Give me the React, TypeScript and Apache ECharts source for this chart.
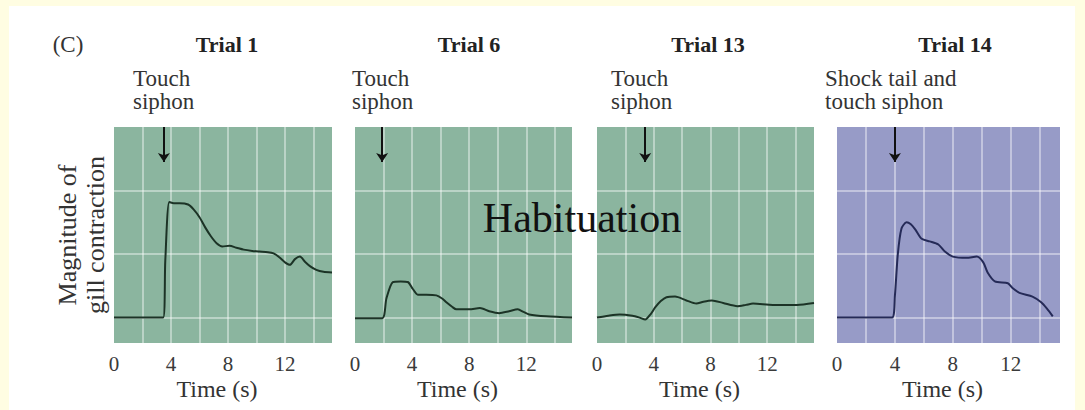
import React, { useEffect, useRef } from "react";
import * as echarts from "echarts";

// ---------- data ----------
const trialTitles = ["Trial 1", "Trial 6", "Trial 13", "Trial 14"];
const stimulusLabels = ["Touch\nsiphon", "Touch\nsiphon", "Touch\nsiphon", "Shock tail and\ntouch siphon"];
const stimulusTimes = [3.5, 1.9, 3.4, 4.0];
const xTickLabels = [0, 4, 8, 12];
const yGridValues = [0, 1, 2];
const panelLetter = "(C)";
const yAxisTitle = "Magnitude of\ngill contraction";
const xAxisTitle = "Time (s)";
const overlayText = "Habituation";

const trial1: [number, number][] = [
  [0, 0], [3.45, 0], [3.6, 0.9], [3.88, 1.82], [4.2, 1.8], [4.6, 1.8], [5.2, 1.78], [5.6, 1.7],
  [6.0, 1.58], [6.4, 1.42], [6.8, 1.28], [7.2, 1.17], [7.6, 1.12], [8.1, 1.13], [8.6, 1.1],
  [9.1, 1.07], [9.7, 1.05], [10.2, 1.04], [10.8, 1.03], [11.2, 1.01], [11.6, 0.95], [12.0, 0.87],
  [12.35, 0.83], [12.7, 0.92], [13.05, 0.96], [13.4, 0.88], [13.75, 0.81], [14.2, 0.75],
  [14.7, 0.72], [15.3, 0.71],
];
const trial6: [number, number][] = [
  [0, -0.01], [1.9, -0.01], [2.2, 0.3], [2.65, 0.56], [3.2, 0.57], [3.7, 0.56], [4.05, 0.45],
  [4.4, 0.36], [5.0, 0.36], [5.7, 0.35], [6.1, 0.3], [6.4, 0.24], [6.8, 0.17], [7.1, 0.13],
  [8.0, 0.13], [8.75, 0.15], [9.4, 0.1], [10.1, 0.07], [10.8, 0.1], [11.4, 0.13], [11.8, 0.09],
  [12.2, 0.05], [13.4, 0.02], [15.2, 0.0],
];
const trial13: [number, number][] = [
  [0, 0], [0.8, 0.03], [1.6, 0.05], [2.5, 0.03], [3.0, 0.0], [3.4, -0.03], [3.8, 0.06],
  [4.1, 0.16], [4.5, 0.26], [4.9, 0.32], [5.5, 0.33], [6.3, 0.27], [7.0, 0.22], [7.5, 0.25],
  [8.1, 0.27], [8.9, 0.23], [9.9, 0.18], [10.5, 0.2], [11.0, 0.22], [12.4, 0.2], [14.1, 0.2],
  [15.3, 0.23],
];
const trial14: [number, number][] = [
  [0, 0], [3.8, 0], [4.0, 0.35], [4.2, 1.0], [4.45, 1.4], [4.8, 1.5], [5.1, 1.47], [5.4, 1.39],
  [5.85, 1.24], [6.4, 1.2], [7.0, 1.15], [7.45, 1.04], [8.0, 0.96], [8.95, 0.94], [9.65, 0.96],
  [10.1, 0.87], [10.4, 0.71], [10.9, 0.57], [11.8, 0.54], [12.1, 0.47], [12.6, 0.39],
  [13.5, 0.33], [14.1, 0.24], [14.5, 0.14], [14.9, 0.02],
];
const trialSeries = [trial1, trial6, trial13, trial14];

// ---------- layout / style ----------
const SERIF = '"Liberation Serif", "DejaVu Serif", serif';
const GREEN = "#8bb59f";
const PURPLE = "#979bc7";
const GRID_LINE = "rgba(255,255,255,0.55)";
const panels = [
  { left: 114, width: 218, xMax: 15.3, bg: GREEN, line: "#1c3326", titleX: 227, labelX: 133 },
  { left: 355, width: 217, xMax: 15.2, bg: GREEN, line: "#1c3326", titleX: 469, labelX: 352 },
  { left: 597, width: 217, xMax: 15.3, bg: GREEN, line: "#1c3326", titleX: 708, labelX: 611 },
  { left: 837, width: 223, xMax: 15.4, bg: PURPLE, line: "#252a57", titleX: 955, labelX: 825 },
];
const PLOT_TOP = 127;
const PLOT_H = 216;
const Y_MIN = -0.4;
const Y_MAX = 3;

export default function App() {
  const ref = useRef<HTMLDivElement>(null);

  useEffect(() => {
    if (!ref.current) return;
    const chart = echarts.init(ref.current, null, { renderer: "svg" });

    const graphic: any[] = [
      {
        type: "text", x: 68, y: 44,
        style: { text: panelLetter, font: `23px ${SERIF}`, fill: "#333", textAlign: "center", textVerticalAlign: "middle" },
      },
      {
        type: "text", x: 81, y: 235, rotation: Math.PI / 2,
        style: { text: yAxisTitle, font: `26px ${SERIF}`, fill: "#333", lineHeight: 28, textAlign: "center", textVerticalAlign: "middle" },
      },
    ];
    panels.forEach((p, i) => {
      graphic.push({
        type: "text", x: p.titleX, y: 44,
        style: { text: trialTitles[i], font: `bold 22px ${SERIF}`, fill: "#222", textAlign: "center", textVerticalAlign: "middle" },
      });
      graphic.push({
        type: "text", x: p.labelX, y: 90,
        style: { text: stimulusLabels[i], font: `23px ${SERIF}`, fill: "#333", lineHeight: 23, textAlign: "left", textVerticalAlign: "middle" },
      });
    });
    graphic.push({
      type: "text", x: 582, y: 218, z: 100,
      style: { text: overlayText, font: `42px ${SERIF}`, fill: "#111", textAlign: "center", textVerticalAlign: "middle" },
    });

    const option: any = {
      animation: false,
      backgroundColor: "transparent",
      grid: panels.map((p) => ({
        left: p.left, top: PLOT_TOP, width: p.width, height: PLOT_H,
        show: true, backgroundColor: p.bg, borderWidth: 0,
        containLabel: false, outerBoundsMode: "none",
      })),
      xAxis: panels.map((p, i) => ({
        type: "value", gridIndex: i, min: 0, max: p.xMax, interval: 2,
        axisLine: { show: false }, axisTick: { show: false },
        axisLabel: {
          margin: 10, fontFamily: SERIF, fontSize: 21, color: "#3a3a3a",
          formatter: (v: number) => (xTickLabels.includes(Math.round(v * 100) / 100) ? String(Math.round(v)) : ""),
        },
        splitLine: { show: true, showMinLine: false, showMaxLine: false, lineStyle: { color: GRID_LINE, width: 1.5 } },
        name: xAxisTitle, nameLocation: "middle", nameGap: 34, nameMoveOverlap: false,
        nameTextStyle: { fontFamily: SERIF, fontSize: 24, color: "#333", padding: [0, 12, 0, 0] },
      })),
      yAxis: panels.map((_, i) => ({ type: "value", gridIndex: i, min: Y_MIN, max: Y_MAX, show: false })),
      series: panels.map((p, i) => ({
        type: "line", xAxisIndex: i, yAxisIndex: i, data: trialSeries[i],
        symbol: "none", showSymbol: false, smooth: 0.25,
        lineStyle: { color: p.line, width: 2 },
        markLine: {
          silent: true, symbol: "none", z: 1, label: { show: false }, animation: false,
          data: [
            ...yGridValues.map((v) => ({ yAxis: v, lineStyle: { color: GRID_LINE, width: 1.5, type: "solid" } })),
            [
              { coord: [stimulusTimes[i], Y_MAX], lineStyle: { color: "#111", width: 2, type: "solid" } },
              { coord: [stimulusTimes[i], 2.45], symbol: "arrow", symbolSize: 9, lineStyle: { color: "#111", width: 2, type: "solid" }, itemStyle: { color: "#111" } },
            ],
          ],
        },
      })),
      graphic,
    };
    chart.setOption(option);
    return () => chart.dispose();
  }, []);

  return (
    <div style={{ position: "fixed", left: 0, top: 0, width: 1085, height: 410, background: "#fffde2" }}>
      <div style={{ position: "absolute", left: 9, top: 6, width: 1066, height: 404, background: "#ffffff" }} />
      <div ref={ref} style={{ position: "absolute", left: 0, top: 0, width: 1085, height: 410 }} />
    </div>
  );
}
